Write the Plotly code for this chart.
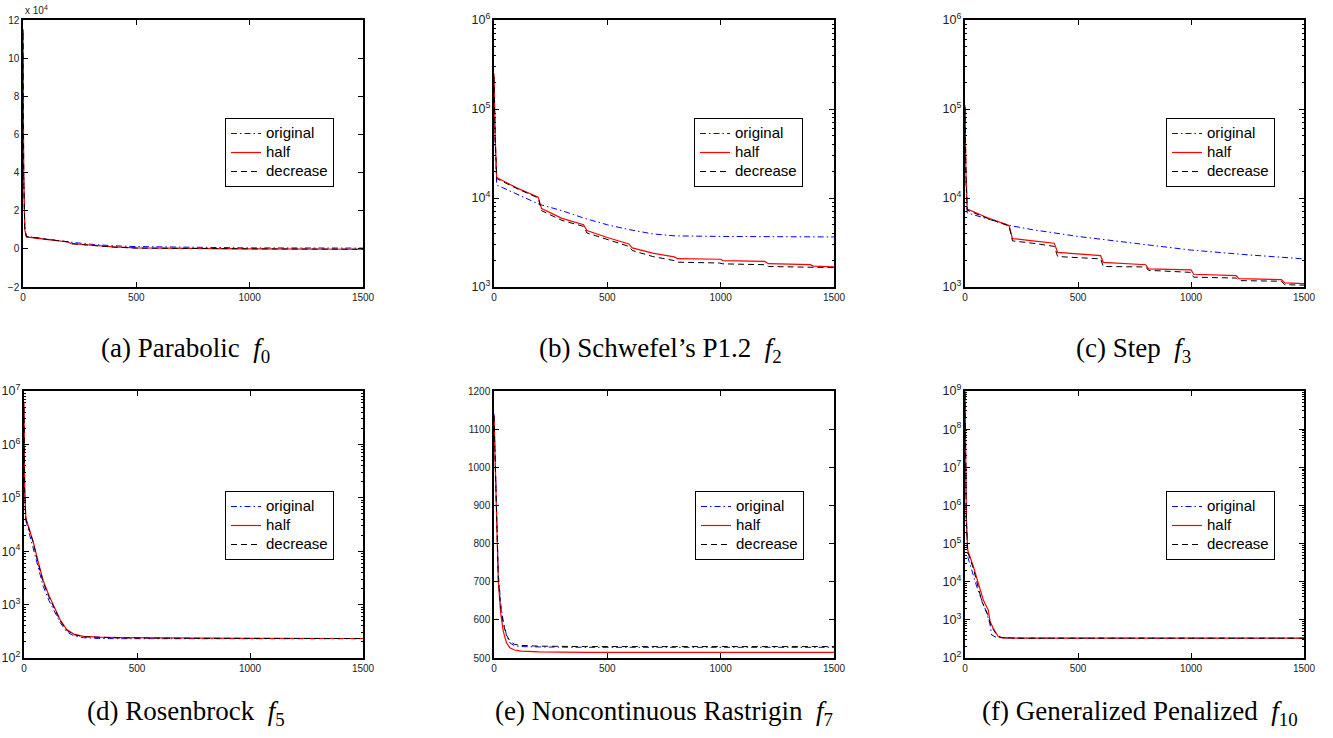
import plotly.graph_objects as go

W, H = 1333, 738

# ---------------- data ----------------
# (a) Parabolic f0  (values in units of 1e4)
a_orig_x = [0, 3, 8, 15, 100, 200, 300, 400, 500, 700, 1000, 1500]
a_orig_y = [11.5, 4.0, 1.0, 0.66, 0.52, 0.36, 0.24, 0.16, 0.12, 0.08, 0.05, 0.04]
a_half_x = [0, 3, 8, 15, 100, 200, 210, 300, 400, 500, 700, 1000, 1500]
a_half_y = [11.5, 4.0, 1.0, 0.63, 0.50, 0.36, 0.28, 0.18, 0.10, 0.05, 0.02, 0.0, -0.02]
a_decr_x = [0, 3, 8, 15, 100, 200, 210, 300, 400, 500, 700, 1000, 1500]
a_decr_y = [11.3, 3.8, 1.0, 0.64, 0.51, 0.37, 0.27, 0.17, 0.09, 0.04, 0.01, 0.0, -0.02]

# (b) Schwefel's P1.2 f2
b_orig_x = [0, 5, 12, 100, 200, 300, 400, 500, 600, 700, 800, 1000, 1500]
b_orig_y = [2.0e5, 4.0e4, 1.4e4, 1.1e4, 8.5e3, 7.2e3, 5.9e3, 5.0e3, 4.4e3, 3.95e3, 3.75e3, 3.7e3, 3.65e3]
b_half_x = [0, 5, 12, 100, 195, 210, 300, 395, 410, 500, 595, 610, 700, 795, 810,
            1000, 1010, 1195, 1210, 1395, 1410, 1500]
b_half_y = [2.5e5, 5.0e4, 1.7e4, 1.3e4, 1.02e4, 7.6e3, 5.9e3, 5.0e3, 4.3e3, 3.6e3, 3.05e3, 2.75e3,
            2.4e3, 2.18e3, 2.08e3, 2.05e3, 1.98e3, 1.94e3, 1.83e3, 1.78e3, 1.72e3, 1.68e3]
b_decr_x = [0, 5, 12, 100, 195, 210, 300, 395, 410, 500, 595, 610, 700, 795, 810,
            995, 1010, 1195, 1210, 1500]
b_decr_y = [2.3e5, 5.0e4, 1.65e4, 1.28e4, 1.0e4, 7.2e3, 5.6e3, 4.8e3, 4.05e3, 3.4e3, 2.86e3, 2.57e3,
            2.2e3, 1.98e3, 1.9e3, 1.86e3, 1.82e3, 1.78e3, 1.70e3, 1.65e3]

# (c) Step f3
c_orig_x = [0, 4, 10, 100, 200, 300, 500, 750, 1000, 1250, 1500]
c_orig_y = [9.0e4, 1.5e4, 6.8e3, 5.8e3, 4.9e3, 4.4e3, 3.7e3, 3.1e3, 2.6e3, 2.3e3, 2.07e3]
c_half_x = [0, 4, 10, 100, 195, 210, 300, 395, 410, 500, 600, 612, 700, 800, 812,
            1000, 1012, 1200, 1212, 1400, 1415, 1500]
c_half_y = [1.1e5, 2.0e4, 7.5e3, 6.0e3, 4.9e3, 3.5e3, 3.3e3, 3.1e3, 2.45e3, 2.35e3, 2.25e3, 1.89e3,
            1.84e3, 1.78e3, 1.6e3, 1.56e3, 1.39e3, 1.34e3, 1.24e3, 1.21e3, 1.11e3, 1.09e3]
c_decr_x = [0, 4, 10, 100, 195, 210, 300, 395, 410, 500, 600, 612, 700, 800, 812,
            1000, 1012, 1200, 1212, 1400, 1415, 1500]
c_decr_y = [1.05e5, 2.0e4, 7.3e3, 5.9e3, 4.85e3, 3.3e3, 3.1e3, 2.86e3, 2.2e3, 2.15e3, 2.07e3, 1.7e3,
            1.7e3, 1.68e3, 1.54e3, 1.46e3, 1.29e3, 1.26e3, 1.18e3, 1.16e3, 1.06e3, 1.05e3]

# (d) Rosenbrock f5
d_x = [0, 3, 8, 20, 41, 60, 85, 110, 130, 160, 189, 220, 263, 330, 425, 700, 1000, 1500]
d_orig_y = [4e6, 1.2e5, 3.8e4, 2.4e4, 1.2e4, 5.5e3, 2.2e3, 1.2e3, 8e2, 4.6e2, 3.1e2, 2.6e2,
            2.4e2, 2.32e2, 2.3e2, 2.3e2, 2.3e2, 2.3e2]
d_half_y = [6e6, 1.5e5, 4.2e4, 2.8e4, 1.5e4, 7e3, 2.8e3, 1.5e3, 9.5e2, 5.2e2, 3.4e2, 2.8e2,
            2.55e2, 2.45e2, 2.4e2, 2.35e2, 2.33e2, 2.32e2]
d_decr_y = [5e6, 1.4e5, 4e4, 2.7e4, 1.45e4, 6.6e3, 2.6e3, 1.4e3, 9e2, 5e2, 3.3e2, 2.75e2,
            2.5e2, 2.42e2, 2.38e2, 2.34e2, 2.32e2, 2.31e2]

# (e) Noncontinuous Rastrigin f7
e_x = [0, 5, 10, 19, 30, 41, 55, 70, 90, 120, 200, 400, 800, 1500]
e_orig_y = [1140, 1020, 900, 720, 640, 595, 560, 540, 532, 530, 529, 528, 528, 528]
e_half_y = [1135, 1000, 880, 700, 615, 570, 540, 527, 521, 518, 516, 515, 515, 515]
e_decr_y = [1135, 1010, 890, 710, 630, 590, 560, 545, 536, 533, 531, 530, 530, 530]

# (f) Generalized Penalized f10
f_orig_x = [0, 3, 6, 12, 52, 96, 110, 118, 140, 200, 1500]
f_orig_y = [8e8, 6e6, 3e5, 4.5e4, 7.4e3, 1.5e3, 8e2, 4e2, 345, 332, 330]
f_half_x = [0, 3, 6, 12, 37, 81, 103, 111, 125, 147, 170, 250, 1500]
f_half_y = [1e9, 1e7, 5e5, 6.7e4, 2.5e4, 3.3e3, 1.8e3, 9e2, 6e2, 365, 335, 330, 330]
f_decr_x = [0, 3, 6, 12, 37, 75, 100, 115, 135, 160, 250, 1500]
f_decr_y = [9e8, 8e6, 4e5, 6e4, 2.2e4, 3e3, 1.4e3, 7e2, 4.5e2, 340, 330, 330]

series_names = ["original", "half", "decrease"]
captions = ["(a) Parabolic&nbsp; <i>f</i><sub>0</sub>",
            "(b) Schwefel\u2019s P1.2&nbsp; <i>f</i><sub>2</sub>",
            "(c) Step&nbsp; <i>f</i><sub>3</sub>",
            "(d) Rosenbrock&nbsp; <i>f</i><sub>5</sub>",
            "(e) Noncontinuous Rastrigin&nbsp; <i>f</i><sub>7</sub>",
            "(f) Generalized Penalized&nbsp; <i>f</i><sub>10</sub>"]

panels = [
    dict(data=[(a_orig_x, a_orig_y), (a_half_x, a_half_y), (a_decr_x, a_decr_y)],
         ytype="linear", yrange=[-2, 12], ydtick=2),
    dict(data=[(b_orig_x, b_orig_y), (b_half_x, b_half_y), (b_decr_x, b_decr_y)],
         ytype="log", yrange=[3, 6], ydtick=1),
    dict(data=[(c_orig_x, c_orig_y), (c_half_x, c_half_y), (c_decr_x, c_decr_y)],
         ytype="log", yrange=[3, 6], ydtick=1),
    dict(data=[(d_x, d_orig_y), (d_x, d_half_y), (d_x, d_decr_y)],
         ytype="log", yrange=[2, 7], ydtick=1),
    dict(data=[(e_x, e_orig_y), (e_x, e_half_y), (e_x, e_decr_y)],
         ytype="linear", yrange=[500, 1200], ydtick=100),
    dict(data=[(f_orig_x, f_orig_y), (f_half_x, f_half_y), (f_decr_x, f_decr_y)],
         ytype="log", yrange=[2, 9], ydtick=1),
]

# ---------------- layout geometry (page pixels) ----------------
col_px = [(23, 363), (494, 834), (965, 1304)]
row_px = [(20, 287), (391, 658)]
legend_px = [(225, 118), (694, 118), (1166, 118), (225, 491), (695, 491), (1166, 491)]
caption_px = [(185, 350), (660, 350), (1133, 350), (186, 713), (664, 713), (1140, 713)]


def px_x(p):
    return p / W


def px_y(p):
    return 1 - p / H


styles = [dict(color="#0000ff", width=1, dash="6px,3px,1.5px,3px"),
          dict(color="#ff0000", width=1.2, dash="solid"),
          dict(color="#000000", width=1, dash="6px,4px")]

fig = go.Figure()
layout = dict(width=W, height=H, margin=dict(l=0, r=0, t=0, b=0, autoexpand=False),
              paper_bgcolor="white", plot_bgcolor="white",
              font=dict(family="Liberation Sans, Arial, sans-serif", color="#222"),
              annotations=[])

for i, p in enumerate(panels):
    r, c = divmod(i, 3)
    x0, x1 = col_px[c]
    if i == 3:
        x0 = 24
    y0, y1 = row_px[r]
    xa = "x" if i == 0 else f"x{i+1}"
    ya = "y" if i == 0 else f"y{i+1}"
    lg = "legend" if i == 0 else f"legend{i+1}"
    for k, (xs, ys) in enumerate(p["data"]):
        fig.add_trace(go.Scatter(x=xs, y=ys, mode="lines",
                                 name=f"<span style='font-size:15px'>{series_names[k]}</span>",
                                 line=styles[k], xaxis=xa, yaxis=ya, legend=lg,
                                 hoverinfo="skip"))
    axcommon = dict(showline=True, linecolor="black", linewidth=1.5, mirror="allticks",
                    ticks="inside", ticklen=5, tickwidth=1, tickcolor="black",
                    showgrid=False, zeroline=False, automargin=False,
                    tickfont=dict(size=10, color="#222"))
    layout["xaxis" if i == 0 else f"xaxis{i+1}"] = dict(
        domain=[px_x(x0), px_x(x1)], anchor=ya, range=[0, 1500], dtick=500, tick0=0, **axcommon)
    yax = dict(domain=[px_y(y1), px_y(y0)], anchor=xa, type=p["ytype"],
               range=p["yrange"], dtick=p["ydtick"], **axcommon)
    if p["ytype"] == "log":
        yax["exponentformat"] = "power"
        yax["minor"] = dict(dtick="D1", ticks="inside", ticklen=2.5, tickcolor="black",
                            showgrid=False)
    else:
        yax["tick0"] = p["yrange"][0]
    layout["yaxis" if i == 0 else f"yaxis{i+1}"] = yax
    lx, ly = legend_px[i]
    layout[lg] = dict(x=px_x(lx), y=px_y(ly), xanchor="left", yanchor="top",
                      bgcolor="white", bordercolor="black", borderwidth=1,
                      font=dict(size=12, family="Liberation Sans, Arial, sans-serif", color="black"),
                      tracegroupgap=0, itemwidth=30)
    cx, cy = caption_px[i]
    layout["annotations"].append(dict(
        text=captions[i], x=px_x(cx), y=px_y(cy), xref="paper", yref="paper",
        xanchor="center", yanchor="middle", showarrow=False,
        font=dict(family="Liberation Serif, Times New Roman, serif", size=27, color="black")))

layout["annotations"].append(dict(
    text="x 10<sup>4</sup>", x=px_x(23), y=px_y(18), xref="paper", yref="paper",
    xanchor="left", yanchor="bottom", showarrow=False,
    font=dict(size=10, color="#222")))

fig.update_layout(**layout)
fig.write_html("out.html", config={"displayModeBar": False},
               post_script="document.body.style.margin='0';document.body.style.overflow='hidden';")
